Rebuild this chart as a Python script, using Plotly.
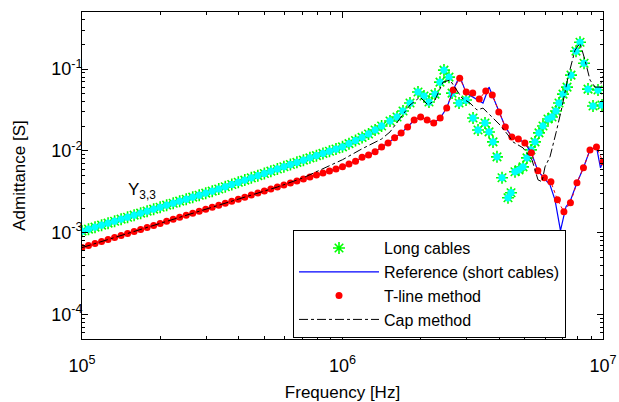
import plotly.graph_objects as go

# ---------------- data ----------------
# common frequency grid (Hz) used by the T-line method series
F_GRID = [1.000e5, 1.059e5, 1.122e5, 1.189e5, 1.259e5, 1.334e5, 1.413e5, 1.496e5, 1.585e5, 1.679e5,
          1.778e5, 1.884e5, 1.995e5, 2.113e5, 2.239e5, 2.371e5, 2.512e5, 2.661e5, 2.818e5, 2.985e5,
          3.162e5, 3.350e5, 3.548e5, 3.758e5, 3.981e5, 4.217e5, 4.467e5, 4.732e5, 5.012e5, 5.309e5,
          5.623e5, 5.957e5, 6.310e5, 6.683e5, 7.079e5, 7.499e5, 7.943e5, 8.414e5, 8.913e5, 9.441e5,
          1.000e6, 1.059e6, 1.122e6, 1.189e6, 1.259e6, 1.334e6, 1.413e6, 1.496e6, 1.585e6, 1.679e6,
          1.778e6, 1.884e6, 1.995e6, 2.113e6, 2.239e6, 2.371e6, 2.512e6, 2.661e6, 2.818e6, 2.985e6,
          3.162e6, 3.350e6, 3.548e6, 3.758e6, 3.981e6, 4.217e6, 4.467e6, 4.732e6, 5.012e6, 5.309e6,
          5.623e6, 5.957e6, 6.310e6, 6.683e6, 7.079e6, 7.499e6, 7.943e6, 8.414e6, 8.913e6, 9.441e6,
          1.000e7]

# T-line method (S)
Y_TLINE = [6.56e-4, 6.95e-4, 7.35e-4, 7.78e-4, 8.24e-4, 8.71e-4, 9.23e-4, 9.77e-4, 1.035e-3, 1.094e-3,
           1.159e-3, 1.227e-3, 1.297e-3, 1.374e-3, 1.455e-3, 1.538e-3, 1.629e-3, 1.726e-3, 1.824e-3, 1.932e-3,
           2.046e-3, 2.163e-3, 2.291e-3, 2.427e-3, 2.570e-3, 2.716e-3, 2.877e-3, 3.048e-3, 3.221e-3, 3.412e-3,
           3.614e-3, 3.819e-3, 4.046e-3, 4.285e-3, 4.539e-3, 4.797e-3, 5.082e-3, 5.383e-3, 5.689e-3, 6.026e-3,
           6.383e-3, 6.93e-3, 7.45e-3, 8.34e-3, 8.93e-3, 9.73e-3, 1.119e-2, 1.253e-2, 1.443e-2, 1.66e-2,
           1.963e-2, 2.388e-2, 2.600e-2, 2.388e-2, 2.193e-2, 2.523e-2, 3.342e-2, 5.55e-2, 7.76e-2, 5.25e-2,
           5.09e-2, 4.31e-2, 5.40e-2, 4.82e-2, 2.99e-2, 1.963e-2, 1.483e-2, 1.40e-2, 1.253e-2, 9.46e-3,
           5.70e-3, 4.69e-3, 4.19e-3, 2.52e-3, 1.80e-3, 2.32e-3, 4.07e-3, 6.21e-3, 1.028e-2, 1.119e-2,
           7.35e-3]

# Long cables (S)
F_LONG = F_GRID[:47] + [
    1.522e6, 1.619e6, 1.707e6, 1.816e6, 1.949e6, 2.055e6, 2.148e6, 2.265e6, 2.367e6, 2.452e6,
    2.563e6, 2.633e6, 2.801e6, 2.980e6, 3.170e6, 3.313e6, 3.524e6, 3.651e6, 3.782e6, 3.918e6,
    4.096e6, 4.318e6, 4.435e6, 4.594e6, 4.759e6, 4.931e6, 5.108e6, 5.291e6, 5.482e6, 5.679e6,
    5.883e6, 6.150e6, 6.371e6, 6.600e6, 6.778e6, 7.021e6, 7.275e6, 7.537e6, 7.878e6, 8.161e6,
    8.456e6, 8.759e6, 9.155e6, 9.568e6, 9.913e6]
Y_LONG = [1.042e-3, 1.102e-3, 1.167e-3, 1.234e-3, 1.306e-3, 1.380e-3, 1.462e-3, 1.545e-3, 1.637e-3, 1.730e-3,
          1.832e-3, 1.936e-3, 2.046e-3, 2.168e-3, 2.291e-3, 2.427e-3, 2.564e-3, 2.716e-3, 2.871e-3, 3.041e-3,
          3.214e-3, 3.420e-3, 3.639e-3, 3.882e-3, 4.130e-3, 4.395e-3, 4.677e-3, 4.977e-3, 5.297e-3, 5.649e-3,
          6.012e-3, 6.397e-3, 6.808e-3, 7.244e-3, 7.709e-3, 8.222e-3, 8.750e-3, 9.311e-3, 9.908e-3, 1.054e-2,
          1.122e-2, 1.227e-2, 1.340e-2, 1.462e-2, 1.611e-2, 1.803e-2, 2.018e-2,
          2.323e-2, 2.600e-2, 3.076e-2, 3.85e-2, 5.25e-2, 4.69e-2, 3.96e-2, 4.95e-2, 6.93e-2, 9.73e-2,
          7.98e-2, 5.09e-2, 3.85e-2, 4.19e-2, 2.523e-2, 1.803e-2, 2.193e-2, 1.706e-2, 1.288e-2, 8.45e-3,
          4.69e-3, 2.67e-3, 3.08e-3, 5.55e-3, 5.86e-3, 6.38e-3, 8.22e-3, 1.028e-2, 1.288e-2, 1.66e-2,
          2.018e-2, 2.455e-2, 2.600e-2, 3.076e-2, 3.85e-2, 4.95e-2, 6.03e-2, 8.45e-2, 0.166, 0.213,
          0.118, 5.70e-2, 3.54e-2, 5.55e-2, 3.64e-2]

# Reference (short cables) (S)
F_REF = [1.000e5, 1.778e5, 3.162e5, 5.623e5,
         1.000e6, 1.059e6, 1.122e6, 1.189e6, 1.259e6, 1.334e6, 1.413e6, 1.496e6, 1.585e6, 1.679e6,
         1.778e6, 1.884e6, 1.995e6, 2.113e6, 2.239e6, 2.371e6, 2.512e6, 2.661e6, 2.818e6, 2.985e6,
         3.162e6, 3.350e6, 3.462e6, 3.651e6, 3.782e6, 3.981e6, 4.217e6, 4.467e6, 4.732e6, 5.012e6,
         5.309e6, 5.623e6, 5.957e6, 6.258e6, 6.542e6, 6.718e6, 6.867e6, 7.021e6, 7.211e6, 7.470e6,
         7.943e6, 8.414e6, 8.913e6, 9.441e6, 9.780e6, 1.000e7]
Y_REF = [6.56e-4, 1.159e-3, 2.046e-3, 3.614e-3,
         6.383e-3, 6.93e-3, 7.45e-3, 8.34e-3, 8.93e-3, 9.73e-3, 1.119e-2, 1.253e-2, 1.443e-2, 1.66e-2,
         1.963e-2, 2.388e-2, 2.600e-2, 2.388e-2, 2.193e-2, 2.523e-2, 3.342e-2, 5.55e-2, 8.22e-2, 5.09e-2,
         4.56e-2, 4.07e-2, 3.85e-2, 6.03e-2, 4.56e-2, 2.99e-2, 1.963e-2, 1.483e-2, 1.40e-2, 1.253e-2,
         9.46e-3, 5.70e-3, 4.69e-3, 3.85e-3, 2.52e-3, 1.567e-3, 1.057e-3, 1.442e-3, 2.075e-3, 2.39e-3,
         4.07e-3, 6.21e-3, 1.028e-2, 1.119e-2, 6.21e-3, 7.35e-3]

# Cap method (S)
F_CAP = [1.000e5, 1.778e5, 3.162e5, 5.623e5, 7.079e5, 8.913e5, 1.000e6, 1.188e6, 1.413e6, 1.522e6,
         1.662e6, 1.816e6, 1.984e6, 2.129e6, 2.265e6, 2.431e6, 2.587e6, 2.751e6, 2.875e6, 3.086e6,
         3.283e6, 3.462e6, 3.683e6, 4.024e6, 4.318e6, 4.513e6, 4.931e6, 5.339e6, 5.628e6, 5.832e6,
         5.989e6, 6.258e6, 6.600e6, 6.961e6, 7.340e6, 7.808e6, 8.161e6, 8.530e6, 8.916e6, 9.318e6,
         9.739e6, 1.000e7]
Y_CAP = [6.56e-4, 1.159e-3, 2.046e-3, 3.614e-3, 4.70e-3, 6.50e-3, 7.8e-3, 1.06e-2, 1.40e-2, 1.706e-2,
         2.455e-2, 3.64e-2, 4.56e-2, 3.64e-2, 4.19e-2, 6.93e-2, 7.35e-2, 5.55e-2, 4.43e-2, 3.85e-2,
         3.16e-2, 3.34e-2, 2.75e-2, 2.075e-2, 1.567e-2, 1.288e-2, 1.089e-2, 7.76e-3, 4.43e-3, 4.19e-3,
         6.38e-3, 8.45e-3, 1.66e-2, 3.44e-2, 7.98e-2, 0.1706, 0.2075, 0.1288, 7.35e-2, 6.03e-2,
         6.03e-2, 8.22e-2]

SERIES_NAMES = ["Long cables", "Reference (short cables)", "T-line method", "Cap method"]
X_TICKS = [1e5, 1e6, 1e7]
X_TICK_TEXT = ["10<sup>5</sup>", "10<sup>6</sup>", "10<sup>7</sup>"]
Y_TICKS = [1e-4, 1e-3, 1e-2, 1e-1]
Y_TICK_TEXT = ["10<sup>-4</sup>", "10<sup>-3</sup>", "10<sup>-2</sup>", "10<sup>-1</sup>"]

# ---------------- figure ----------------
FONT = "Liberation Sans, Arial, sans-serif"
fig = go.Figure()

fig.add_trace(go.Scatter(
    x=F_LONG, y=Y_LONG, mode="markers", name=SERIES_NAMES[0],
    marker=dict(symbol="asterisk-open", size=10, color="#00ff00",
                line=dict(color="#00ff00", width=1.6))))
fig.add_trace(go.Scatter(
    x=F_LONG, y=Y_LONG, mode="markers", showlegend=False, hoverinfo="skip",
    marker=dict(symbol="asterisk-open", size=6, color="#00ffff",
                line=dict(color="#00ffff", width=2.5))))
fig.add_trace(go.Scatter(
    x=F_REF, y=Y_REF, mode="lines", name=SERIES_NAMES[1],
    line=dict(color="#0000ff", width=1.2)))
fig.add_trace(go.Scatter(
    x=F_GRID, y=Y_TLINE, mode="lines", showlegend=False, hoverinfo="skip",
    line=dict(color="#ff0000", width=1, dash="dot")))
fig.add_trace(go.Scatter(
    x=F_GRID, y=Y_TLINE, mode="markers", name=SERIES_NAMES[2],
    marker=dict(symbol="circle", size=7, color="#ff0000")))
fig.add_trace(go.Scatter(
    x=F_CAP, y=Y_CAP, mode="lines", name=SERIES_NAMES[3],
    line=dict(color="#000000", width=1, dash="dashdot")))

x_minor = [m * 10 ** e for e in range(5, 7) for m in range(2, 10)]
y_minor = [m * 10.0 ** e for e in range(-5, 0) for m in range(2, 10)]

axis_common = dict(
    showline=True, linecolor="black", linewidth=1, mirror="allticks",
    ticks="inside", ticklen=6, tickcolor="black", tickwidth=1,
    showgrid=False, zeroline=False, automargin=False,
    tickfont=dict(family=FONT, size=18, color="black"),
)

fig.update_xaxes(
    type="log", range=[5, 7], tickmode="array", tickvals=X_TICKS, ticktext=X_TICK_TEXT,
    minor=dict(ticks="inside", ticklen=3, tickcolor="black", tickmode="array", tickvals=x_minor, showgrid=False),
    title=dict(text="Frequency [Hz]", font=dict(family=FONT, size=17, color="black"), standoff=13),
    ticklabelstandoff=10,
    **axis_common)
fig.update_yaxes(
    type="log", range=[-4.301, -0.301], tickmode="array", tickvals=Y_TICKS, ticktext=Y_TICK_TEXT,
    minor=dict(ticks="inside", ticklen=3, tickcolor="black", tickmode="array", tickvals=y_minor, showgrid=False),
    title=dict(text="Admittance [S]", font=dict(family=FONT, size=17, color="black"), standoff=21),
    ticklabelstandoff=-5,
    **axis_common)

fig.add_annotation(
    xref="paper", yref="paper", x=0.085, y=0.452, xanchor="left", yanchor="middle",
    text="Y<sub>3,3</sub>", showarrow=False, font=dict(family=FONT, size=17, color="black"))

fig.update_layout(
    width=619, height=402,
    margin=dict(l=82, r=16, t=12, b=63, autoexpand=False),
    paper_bgcolor="white", plot_bgcolor="white",
    font=dict(family=FONT, color="black"),
    showlegend=True,
    legend=dict(x=0.405, y=0.333, xanchor="left", yanchor="top",
                bgcolor="white", bordercolor="black", borderwidth=1,
                font=dict(family=FONT, size=16, color="black"),
                itemwidth=80, tracegroupgap=0,
                entrywidthmode="pixels", entrywidth=215),
)

fig.write_html("out.html")
